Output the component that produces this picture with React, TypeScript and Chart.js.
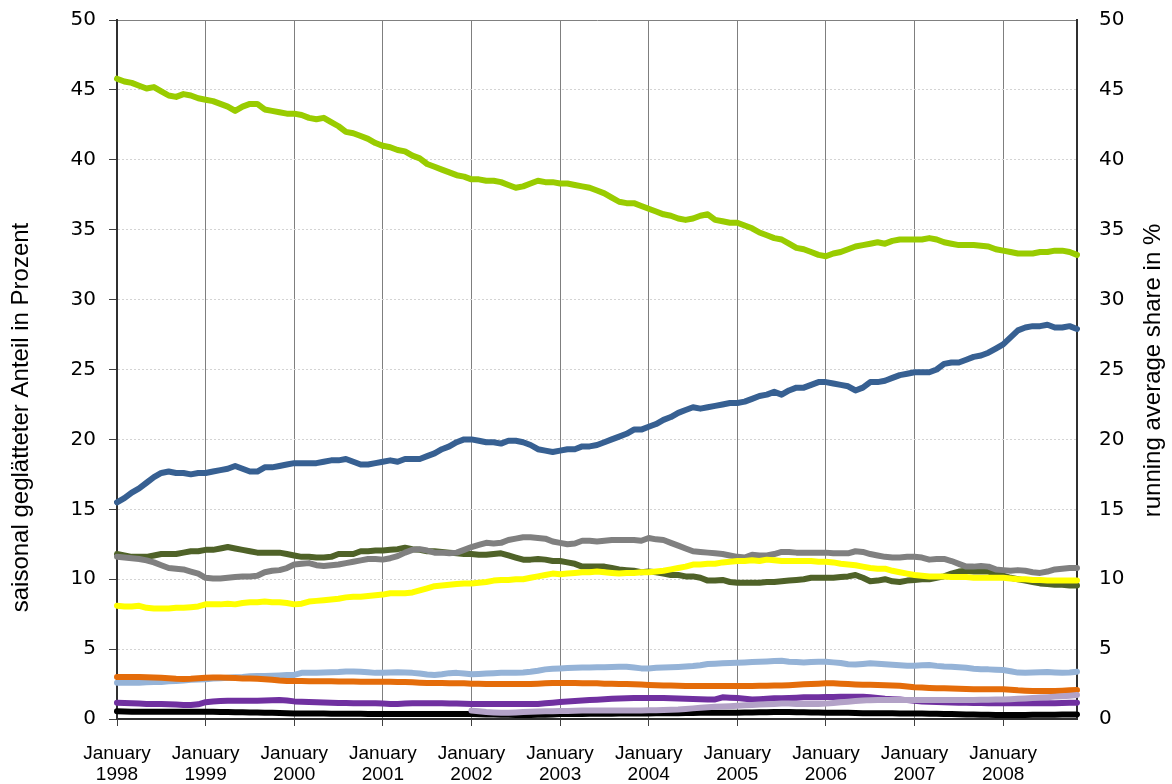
import React, { useEffect, useRef } from "react";
import { Chart, registerables } from "chart.js";

Chart.register(...registerables);

// ---------- categories ----------
const YEARS = [1998, 1999, 2000, 2001, 2002, 2003, 2004, 2005, 2006, 2007, 2008];
const MONTHS = ["January", "February", "March", "April", "May", "June", "July", "August", "September", "October", "November", "December"];
const MONTH_COUNT = 131; // January 1998 .. November 2008
const LABELS: string[] = [];
YEARS.forEach((y) => MONTHS.forEach((m) => LABELS.push(m + " " + y)));
LABELS.length = MONTH_COUNT;

const LEFT_TITLE = "saisonal geglätteter Anteil in Prozent";
const RIGHT_TITLE = "running average share in %";
const Y_TICKS = [0, 5, 10, 15, 20, 25, 30, 35, 40, 45, 50];

// ---------- series values (monthly) ----------
const lightGreen = [
  45.8, 45.6, 45.5, 45.3, 45.1, 45.2, 44.9, 44.6, 44.5, 44.7, 44.6, 44.4,
  44.3, 44.2, 44.0, 43.8, 43.5, 43.8, 44.0, 44.0, 43.6, 43.5, 43.4, 43.3,
  43.3, 43.2, 43.0, 42.9, 43.0, 42.7, 42.4, 42.0, 41.9, 41.7, 41.5, 41.2,
  41.0, 40.9, 40.7, 40.6, 40.3, 40.1, 39.7, 39.5, 39.3, 39.1, 38.9, 38.8,
  38.6, 38.6, 38.5, 38.5, 38.4, 38.2, 38.0, 38.1, 38.3, 38.5, 38.4, 38.4,
  38.3, 38.3, 38.2, 38.1, 38.0, 37.8, 37.6, 37.3, 37.0, 36.9, 36.9, 36.7,
  36.5, 36.3, 36.1, 36.0, 35.8, 35.7, 35.8, 36.0, 36.1, 35.7, 35.6, 35.5,
  35.5, 35.3, 35.1, 34.8, 34.6, 34.4, 34.3, 34.0, 33.7, 33.6, 33.4, 33.2,
  33.1, 33.3, 33.4, 33.6, 33.8, 33.9, 34.0, 34.1, 34.0, 34.2, 34.3, 34.3,
  34.3, 34.3, 34.4, 34.3, 34.1, 34.0, 33.9, 33.9, 33.9, 33.85, 33.8, 33.6,
  33.5, 33.4, 33.3, 33.3, 33.3, 33.4, 33.4, 33.5, 33.5, 33.4, 33.2,
];
const blue = [
  15.5, 15.8, 16.2, 16.5, 16.9, 17.3, 17.6, 17.7, 17.6, 17.6, 17.5, 17.6,
  17.6, 17.7, 17.8, 17.9, 18.1, 17.9, 17.7, 17.7, 18.0, 18.0, 18.1, 18.2,
  18.3, 18.3, 18.3, 18.3, 18.4, 18.5, 18.5, 18.6, 18.4, 18.2, 18.2, 18.3,
  18.4, 18.5, 18.4, 18.6, 18.6, 18.6, 18.8, 19.0, 19.3, 19.5, 19.8, 20.0,
  20.0, 19.9, 19.8, 19.8, 19.7, 19.9, 19.9, 19.8, 19.6, 19.3, 19.2, 19.1,
  19.2, 19.3, 19.3, 19.5, 19.5, 19.6, 19.8, 20.0, 20.2, 20.4, 20.7, 20.7,
  20.9, 21.1, 21.4, 21.6, 21.9, 22.1, 22.3, 22.2, 22.3, 22.4, 22.5, 22.6,
  22.6, 22.7, 22.9, 23.1, 23.2, 23.4, 23.2, 23.5, 23.7, 23.7, 23.9, 24.1,
  24.1, 24.0, 23.9, 23.8, 23.5, 23.7, 24.1, 24.1, 24.2, 24.4, 24.6, 24.7,
  24.8, 24.8, 24.8, 25.0, 25.4, 25.5, 25.5, 25.7, 25.9, 26.0, 26.2, 26.5,
  26.8, 27.3, 27.8, 28.0, 28.1, 28.1, 28.2, 28.0, 28.0, 28.1, 27.9,
];
const darkGreen = [
  11.8, 11.7, 11.6, 11.6, 11.6, 11.7, 11.8, 11.8, 11.8, 11.9, 12.0, 12.0,
  12.1, 12.1, 12.2, 12.3, 12.2, 12.1, 12.0, 11.9, 11.9, 11.9, 11.9, 11.8,
  11.7, 11.6, 11.6, 11.55, 11.55, 11.6, 11.8, 11.8, 11.8, 12.0, 12.0, 12.05,
  12.05, 12.1, 12.15, 12.25, 12.15, 12.1, 12.0, 12.0, 11.95, 11.9, 11.85, 11.8,
  11.8, 11.75, 11.75, 11.8, 11.85, 11.7, 11.55, 11.4, 11.4, 11.45, 11.4, 11.3,
  11.3, 11.2, 11.1, 10.9, 10.9, 10.9, 10.9, 10.8, 10.7, 10.65, 10.6, 10.5,
  10.55, 10.5, 10.4, 10.3, 10.3, 10.2, 10.2, 10.1, 9.9, 9.9, 9.95, 9.8,
  9.75, 9.75, 9.75, 9.75, 9.8, 9.8, 9.85, 9.9, 9.95, 10.0, 10.1, 10.1,
  10.1, 10.1, 10.15, 10.2, 10.3, 10.1, 9.85, 9.9, 10.0, 9.85, 9.8, 9.9,
  9.95, 10.0, 10.0, 10.1, 10.2, 10.4, 10.55, 10.6, 10.55, 10.55, 10.55, 10.4,
  10.25, 10.1, 10.0, 9.9, 9.8, 9.7, 9.65, 9.6, 9.6, 9.55, 9.55,
];
const gray = [
  11.6, 11.55, 11.5, 11.45, 11.35, 11.2, 11.0, 10.8, 10.75, 10.7, 10.55, 10.4,
  10.1, 10.05, 10.05, 10.1, 10.15, 10.2, 10.2, 10.25, 10.5, 10.6, 10.65, 10.8,
  11.05, 11.1, 11.15, 11.0, 10.95, 11.0, 11.05, 11.15, 11.25, 11.35, 11.45, 11.45,
  11.4, 11.5, 11.65, 11.9, 12.1, 12.15, 12.05, 11.9, 11.9, 11.85, 11.9, 12.1,
  12.3, 12.45, 12.6, 12.55, 12.6, 12.8, 12.9, 13.0, 13.0, 12.95, 12.9, 12.7,
  12.6, 12.5, 12.55, 12.75, 12.75, 12.7, 12.75, 12.8, 12.8, 12.8, 12.8, 12.75,
  12.95, 12.85, 12.8, 12.6, 12.4, 12.2, 12.0, 11.95, 11.9, 11.85, 11.8, 11.7,
  11.6, 11.55, 11.75, 11.7, 11.7, 11.8, 11.95, 11.95, 11.9, 11.9, 11.9, 11.9,
  11.9, 11.85, 11.85, 11.85, 12.0, 11.95, 11.8, 11.7, 11.6, 11.55, 11.55, 11.6,
  11.6, 11.55, 11.4, 11.45, 11.45, 11.3, 11.1, 10.9, 10.9, 10.95, 10.9, 10.7,
  10.65, 10.6, 10.65, 10.6, 10.5, 10.45, 10.55, 10.7, 10.75, 10.8, 10.8,
];
const yellow = [
  8.1, 8.05, 8.05, 8.1, 7.95, 7.9, 7.9, 7.9, 7.95, 7.95, 8.0, 8.05,
  8.2, 8.2, 8.2, 8.25, 8.2, 8.3, 8.35, 8.35, 8.4, 8.35, 8.35, 8.3,
  8.2, 8.25, 8.4, 8.45, 8.5, 8.55, 8.6, 8.7, 8.75, 8.75, 8.8, 8.85,
  8.9, 9.0, 9.0, 9.0, 9.05, 9.2, 9.35, 9.5, 9.55, 9.6, 9.65, 9.7,
  9.7, 9.75, 9.8, 9.9, 9.95, 9.95, 10.0, 10.0, 10.1, 10.2, 10.3, 10.4,
  10.35, 10.4, 10.45, 10.5, 10.5, 10.55, 10.5, 10.45, 10.4, 10.45, 10.45, 10.5,
  10.5, 10.55, 10.6, 10.7, 10.8, 10.9, 11.05, 11.05, 11.1, 11.1, 11.2, 11.25,
  11.3, 11.3, 11.35, 11.3, 11.4, 11.35, 11.3, 11.3, 11.3, 11.3, 11.3, 11.25,
  11.25, 11.2, 11.1, 11.05, 11.0, 10.9, 10.8, 10.75, 10.75, 10.6, 10.5, 10.4,
  10.3, 10.25, 10.2, 10.2, 10.2, 10.15, 10.15, 10.15, 10.1, 10.1, 10.1, 10.1,
  10.1, 10.05, 10.0, 10.0, 9.95, 9.95, 9.9, 9.9, 9.9, 9.9, 9.9,
];
const lightBlue = [
  2.6, 2.6, 2.6, 2.6, 2.62, 2.65, 2.65, 2.7, 2.72, 2.75, 2.8, 2.83,
  2.85, 2.9, 2.92, 2.95, 2.98, 3.0, 3.05, 3.07, 3.08, 3.1, 3.12, 3.14,
  3.15, 3.3, 3.3, 3.3, 3.32, 3.35, 3.36, 3.4, 3.4, 3.38, 3.35, 3.3,
  3.3, 3.32, 3.35, 3.33, 3.3, 3.25, 3.18, 3.14, 3.2, 3.28, 3.3, 3.25,
  3.2, 3.22, 3.25, 3.28, 3.3, 3.3, 3.3, 3.33, 3.38, 3.45, 3.55, 3.6,
  3.62, 3.64, 3.66, 3.68, 3.69, 3.7, 3.7, 3.72, 3.74, 3.74, 3.68, 3.62,
  3.62, 3.66, 3.69, 3.7, 3.72, 3.75, 3.79, 3.85, 3.93, 3.96, 3.98, 4.0,
  4.02, 4.05, 4.07, 4.1, 4.12, 4.15, 4.17, 4.1, 4.07, 4.05, 4.08, 4.1,
  4.1, 4.05, 4.0, 3.92, 3.9, 3.94, 3.98, 3.96, 3.92, 3.88, 3.84, 3.81,
  3.81, 3.84, 3.86, 3.8, 3.76, 3.74, 3.7, 3.66, 3.6, 3.56, 3.55, 3.52,
  3.5, 3.42, 3.32, 3.31, 3.33, 3.35, 3.36, 3.33, 3.31, 3.33, 3.38,
];
const orange = [
  3.0, 3.0, 3.0, 3.0, 2.98, 2.97, 2.95, 2.92, 2.88, 2.87, 2.88, 2.92,
  2.95, 2.96, 2.96, 2.95, 2.93, 2.9, 2.9, 2.88, 2.85, 2.8, 2.75, 2.72,
  2.72, 2.71, 2.7, 2.7, 2.7, 2.7, 2.69, 2.68, 2.68, 2.67, 2.66, 2.66,
  2.66, 2.66, 2.65, 2.64, 2.62, 2.6, 2.58, 2.57, 2.57, 2.55, 2.55, 2.55,
  2.53, 2.52, 2.5, 2.5, 2.5, 2.5, 2.5, 2.5, 2.5, 2.52, 2.55, 2.58,
  2.58, 2.58, 2.57, 2.55, 2.55, 2.55, 2.53, 2.52, 2.5, 2.5, 2.48, 2.46,
  2.44, 2.42, 2.4, 2.4, 2.38, 2.36, 2.36, 2.36, 2.36, 2.36, 2.36, 2.36,
  2.36, 2.36, 2.36, 2.37, 2.38, 2.4, 2.4, 2.42, 2.45, 2.48, 2.5, 2.53,
  2.55, 2.55, 2.53, 2.5, 2.47, 2.45, 2.45, 2.44, 2.42, 2.4, 2.38, 2.32,
  2.27, 2.25, 2.22, 2.2, 2.2, 2.18, 2.16, 2.14, 2.13, 2.12, 2.12, 2.12,
  2.12, 2.1, 2.05, 2.02, 2.0, 2.0, 2.0, 2.0, 2.02, 2.05, 2.07,
];
const purple = [
  1.17, 1.15, 1.12, 1.1, 1.08, 1.07, 1.07, 1.05, 1.03, 1.0, 1.0, 1.05,
  1.2, 1.25, 1.28, 1.3, 1.31, 1.31, 1.31, 1.31, 1.32, 1.34, 1.36, 1.33,
  1.26, 1.24, 1.22, 1.2, 1.18, 1.17, 1.15, 1.14, 1.13, 1.12, 1.12, 1.12,
  1.1, 1.07, 1.08, 1.1, 1.12, 1.12, 1.12, 1.12, 1.12, 1.11, 1.1, 1.09,
  1.08, 1.07, 1.07, 1.07, 1.08, 1.07, 1.07, 1.07, 1.07, 1.08, 1.12, 1.17,
  1.22, 1.26, 1.29, 1.32, 1.36, 1.38, 1.41, 1.44, 1.47, 1.48, 1.5, 1.5,
  1.5, 1.5, 1.5, 1.48, 1.46, 1.44, 1.43, 1.42, 1.4, 1.4, 1.55, 1.52,
  1.5, 1.45, 1.4, 1.42, 1.45, 1.48, 1.48, 1.5, 1.52, 1.55, 1.55, 1.56,
  1.57, 1.58, 1.6, 1.6, 1.6, 1.6, 1.55, 1.5, 1.45, 1.42, 1.4, 1.35,
  1.3, 1.26, 1.24, 1.22, 1.2, 1.18, 1.17, 1.16, 1.15, 1.14, 1.13, 1.12,
  1.12, 1.12, 1.12, 1.12, 1.12, 1.12, 1.12, 1.13, 1.14, 1.16, 1.17,
];
const black = [
  0.55, 0.53, 0.52, 0.52, 0.52, 0.52, 0.52, 0.52, 0.52, 0.52, 0.52, 0.52,
  0.52, 0.51, 0.5, 0.5, 0.49, 0.48, 0.47, 0.46, 0.45, 0.44, 0.43, 0.42,
  0.4, 0.4, 0.4, 0.39, 0.39, 0.38, 0.38, 0.37, 0.37, 0.37, 0.36, 0.36,
  0.36, 0.36, 0.36, 0.36, 0.36, 0.36, 0.36, 0.36, 0.36, 0.36, 0.36, 0.36,
  0.35, 0.34, 0.33, 0.32, 0.31, 0.3, 0.29, 0.29, 0.29, 0.3, 0.31, 0.33,
  0.35, 0.36, 0.36, 0.36, 0.37, 0.37, 0.38, 0.38, 0.39, 0.39, 0.4, 0.4,
  0.4, 0.41, 0.41, 0.42, 0.42, 0.43, 0.43, 0.44, 0.44, 0.45, 0.45, 0.45,
  0.45, 0.46, 0.47, 0.48, 0.49, 0.5, 0.5, 0.5, 0.49, 0.48, 0.47, 0.46,
  0.45, 0.45, 0.44, 0.44, 0.43, 0.42, 0.42, 0.41, 0.41, 0.41, 0.4, 0.4,
  0.4, 0.39, 0.38, 0.37, 0.36, 0.35, 0.34, 0.33, 0.32, 0.31, 0.3, 0.29,
  0.29, 0.29, 0.29, 0.29, 0.3, 0.3, 0.31, 0.31, 0.32, 0.32, 0.33,
];
const lavender = [
  null, null, null, null, null, null, null, null, null, null, null, null,
  null, null, null, null, null, null, null, null, null, null, null, null,
  null, null, null, null, null, null, null, null, null, null, null, null,
  null, null, null, null, null, null, null, null, null, null, null, null,
  0.6, 0.55, 0.5, 0.47, 0.45, 0.45, 0.47, 0.5, 0.52, 0.53, 0.55, 0.56,
  0.57, 0.58, 0.59, 0.6, 0.6, 0.6, 0.6, 0.6, 0.6, 0.6, 0.6, 0.61,
  0.62, 0.63, 0.64, 0.66, 0.68, 0.72, 0.76, 0.8, 0.84, 0.88, 0.9, 0.92,
  0.95, 0.98, 1.0, 1.03, 1.06, 1.08, 1.1, 1.1, 1.08, 1.07, 1.07, 1.08,
  1.1, 1.15, 1.2, 1.24, 1.28, 1.32, 1.35, 1.36, 1.36, 1.36, 1.36, 1.36,
  1.36, 1.36, 1.36, 1.36, 1.36, 1.36, 1.36, 1.36, 1.36, 1.37, 1.38, 1.39,
  1.4, 1.42, 1.44, 1.47, 1.5, 1.53, 1.56, 1.6, 1.63, 1.67, 1.71,
];

const SERIES = [
  { data: lightGreen, color: "#99CC00" },
  { data: blue, color: "#376092" },
  { data: darkGreen, color: "#4F6228" },
  { data: gray, color: "#808080" },
  { data: yellow, color: "#FFFF00" },
  { data: lightBlue, color: "#95B3D7" },
  { data: orange, color: "#E46C0A" },
  { data: purple, color: "#7030A0" },
  { data: black, color: "#000000" },
  { data: lavender, color: "#B3A2C7" },
];

const FONT = '"Liberation Sans", Arial, sans-serif';

const isJanuary = (c: any) => {
  const v = c && c.tick && typeof c.tick.value === "number" ? c.tick.value : c.index;
  return v % 12 === 0;
};

const axisTitles = {
  id: "axisTitles",
  afterDraw(chart: any) {
    const ctx = chart.ctx;
    const area = chart.chartArea;
    const mid = (area.top + area.bottom) / 2;
    ctx.save();
    ctx.fillStyle = "#000";
    ctx.font = "24px " + FONT;
    ctx.textAlign = "center";
    ctx.textBaseline = "middle";
    ctx.save();
    ctx.translate(21, mid + 48);
    ctx.rotate(-Math.PI / 2);
    ctx.fillText(LEFT_TITLE, 0, 0);
    ctx.restore();
    ctx.save();
    ctx.translate(1153, mid + 1);
    ctx.rotate(-Math.PI / 2);
    ctx.fillText(RIGHT_TITLE, 0, 0);
    ctx.restore();
    ctx.restore();
  },
};

const fixVertical = (width: number) => (scale: any) => {
  scale.width = width;
  scale.paddingTop = 0;
  scale.paddingBottom = 0;
};

export default function App() {
  const ref = useRef<HTMLCanvasElement | null>(null);
  useEffect(() => {
    document.body.style.margin = "0";
    const canvas = ref.current;
    if (!canvas) return;
    const chart = new Chart(canvas, {
      type: "line",
      data: {
        labels: LABELS,
        datasets: SERIES.map((s, i) => ({
          data: s.data as any,
          borderColor: s.color,
          backgroundColor: s.color,
          borderWidth: 6,
          pointRadius: 0,
          tension: 0,
          fill: false,
          borderCapStyle: "round" as const,
          borderJoinStyle: "round" as const,
          spanGaps: false,
          order: SERIES.length - 1 - i,
        })),
      },
      options: {
        responsive: false,
        animation: false,
        devicePixelRatio: 1,
        layout: { padding: { top: 20, left: 0, right: 0, bottom: 0 } },
        plugins: { legend: { display: false }, tooltip: { enabled: false }, title: { display: false } },
        scales: {
          x: {
            type: "category",
            offset: false,
            afterFit: (scale: any) => {
              scale.height = 65;
              scale.paddingLeft = 0;
              scale.paddingRight = 0;
            },
            grid: {
              color: (c: any) => (isJanuary(c) ? "#7f7f7f" : "rgba(0,0,0,0)"),
              tickColor: (c: any) => (isJanuary(c) ? "#404040" : "rgba(0,0,0,0)"),
              lineWidth: 1,
              drawTicks: true,
              tickLength: 7,
            },
            border: { display: true, color: "#303030", width: 2 },
            ticks: {
              autoSkip: false,
              maxRotation: 0,
              minRotation: 0,
              padding: 17,
              color: "#000",
              font: { family: FONT, size: 19, lineHeight: 1.1 },
              callback: (_v: any, index: number) =>
                index % 12 === 0 ? ["January", String(YEARS[index / 12])] : "",
            },
          },
          y: {
            position: "left",
            min: 0,
            max: 50,
            afterFit: fixVertical(117),
            afterBuildTicks: (scale: any) => {
              scale.ticks = Y_TICKS.map((v) => ({ value: v }));
            },
            grid: {
              color: (c: any) => (c.tick && c.tick.value === 50 ? "#808080" : "#d4d4d4"),
              tickColor: "#404040",
              lineWidth: 1,
              tickLength: 8,
            },
            border: {
              display: true,
              color: "#303030",
              width: 2,
              dash: (c: any) => (c.tick && c.tick.value === 50 ? [] : [2, 2]),
            },
            ticks: {
              padding: 13,
              color: "#000",
              font: { family: '"DejaVu Sans", sans-serif', size: 20 },
            },
          },
          y2: {
            position: "right",
            min: 0,
            max: 50,
            afterFit: fixVertical(95),
            afterBuildTicks: (scale: any) => {
              scale.ticks = Y_TICKS.map((v) => ({ value: v }));
            },
            grid: { drawOnChartArea: false, drawTicks: false },
            border: { display: true, color: "#303030", width: 2 },
            ticks: {
              padding: 22,
              color: "#000",
              font: { family: '"DejaVu Sans", sans-serif', size: 20 },
            },
          },
        },
      },
      plugins: [axisTitles],
    });
    return () => chart.destroy();
  }, []);
  return (
    <div style={{ width: 1172, height: 784, background: "#fff" }}>
      <canvas ref={ref} width={1172} height={784} style={{ display: "block" }} />
    </div>
  );
}
